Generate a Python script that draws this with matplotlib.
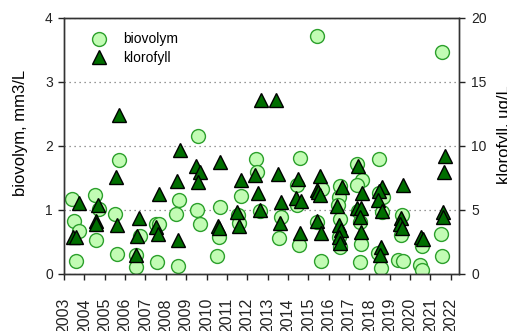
import matplotlib
matplotlib.use("Agg")
import matplotlib.pyplot as plt
from matplotlib.lines import Line2D

plt.rcParams['font.family'] = ['Liberation Sans', 'DejaVu Sans']

# Sampling dates (decimal years) and phytoplankton biovolume (mm3/L)
bio_date = [2003.41, 2003.49, 2003.72, 2003.58, 2004.51, 2004.71, 2004.59,
            2005.70, 2005.53, 2005.59, 2006.72, 2006.56, 2006.53,
            2007.54, 2007.67, 2007.58, 2008.66, 2008.49, 2008.59,
            2009.57, 2009.51, 2009.67, 2010.67, 2010.61, 2010.52,
            2011.69, 2011.53, 2011.59, 2012.42, 2012.50, 2012.62,
            2013.65, 2013.56, 2014.42, 2014.46, 2014.60, 2014.56,
            2015.41, 2015.65, 2015.44, 2015.60,
            2016.56, 2016.52, 2016.44, 2016.58, 2016.51, 2016.56,
            2017.39, 2017.62, 2017.41, 2017.44, 2017.54, 2017.60, 2017.55,
            2018.46, 2018.49, 2018.68, 2018.63, 2018.41, 2018.55,
            2019.59, 2019.54, 2019.42, 2019.63,
            2020.57, 2020.49, 2020.56, 2021.58, 2021.52, 2021.56]
bio_value = [1.16, 0.83, 0.67, 0.20, 1.23, 1.01, 0.52,
             1.77, 0.93, 0.31, 0.59, 0.30, 0.11,
             0.77, 0.77, 0.18, 1.15, 0.93, 0.12,
             2.15, 1.00, 0.78, 1.04, 0.58, 0.28,
             1.21, 0.92, 0.79, 1.80, 1.59, 0.98,
             0.89, 0.56, 1.39, 1.07, 1.81, 0.45,
             3.72, 1.33, 0.81, 0.20,
             1.37, 1.20, 1.07, 0.86, 0.58, 0.41,
             1.72, 1.46, 1.39, 0.98, 0.81, 0.47, 0.19,
             1.79, 1.26, 1.20, 0.97, 0.33, 0.09,
             0.92, 0.60, 0.21, 0.20,
             0.44, 0.13, 0.06, 3.46, 0.62, 0.27]

# Sampling dates (decimal years) and chlorophyll (ug/L)
chl_date = [2003.44, 2003.61, 2003.72, 2004.69, 2004.59, 2004.56,
            2005.70, 2005.56, 2005.61, 2006.67, 2006.59, 2006.53,
            2007.69, 2007.54, 2007.62, 2008.69, 2008.53, 2008.58,
            2009.49, 2009.69, 2009.59, 2010.66, 2010.54, 2010.61,
            2011.69, 2011.52, 2011.60, 2012.67, 2012.40, 2012.52, 2012.61,
            2013.41, 2013.51, 2013.67, 2013.59,
            2014.49, 2014.40, 2014.63, 2014.57,
            2015.57, 2015.41, 2015.49, 2015.57, 2015.43, 2015.62,
            2016.66, 2016.43, 2016.52, 2016.59, 2016.52, 2016.58,
            2017.45, 2017.62, 2017.38, 2017.59, 2017.54, 2017.58,
            2018.64, 2018.45, 2018.42, 2018.60, 2018.57, 2018.54,
            2019.65, 2019.55, 2019.50, 2019.59,
            2020.54, 2020.62, 2021.69, 2021.67, 2021.62, 2021.62]
chl_value = [2.89, 2.89, 5.52, 5.33, 4.10, 3.88,
             12.4, 7.52, 3.77, 4.35, 2.93, 1.47,
             6.25, 3.63, 3.10, 9.69, 7.21, 2.60,
             8.41, 7.93, 7.19, 8.75, 3.73, 3.55,
             7.32, 4.80, 3.76, 13.57, 7.71, 6.33, 5.00,
             13.57, 7.80, 5.63, 3.94,
             7.42, 5.93, 5.65, 3.18,
             7.60, 6.57, 6.40, 6.15, 4.13, 3.18,
             6.80, 5.29, 3.84, 3.38, 2.89, 2.40,
             8.45, 6.33, 5.11, 5.11, 4.42, 3.24,
             6.77, 6.50, 5.75, 4.88, 2.08, 1.48,
             6.93, 4.33, 3.92, 3.60,
             2.89, 2.70, 9.23, 7.93, 4.80, 4.40]

years = list(range(2003, 2023))
left_ticks = [0, 1, 2, 3, 4]
right_ticks = [0, 5, 10, 15, 20]

circle_face = '#c2fcb4'
circle_edge = '#2ca02c'
tri_face = '#006e00'

fig = plt.figure(figsize=(5.07, 3.31), dpi=100)
ax = fig.add_axes([0.1262, 0.1731, 0.7791, 0.7734])
ax2 = ax.twinx()

ax.plot(bio_date, bio_value, linestyle='none', marker='o', markersize=10,
        markerfacecolor=circle_face, markeredgecolor=circle_edge,
        markeredgewidth=1.0)
ax2.plot(chl_date, chl_value, linestyle='none', marker='^', markersize=10,
         markerfacecolor=tri_face, markeredgecolor='black',
         markeredgewidth=1.0)

ax.set_xlim(2003.0, 2022.4)
ax.set_ylim(0, 4)
ax2.set_ylim(0, 20)

ax.set_xticks(years)
ax.set_xticklabels([str(y) for y in years], rotation=90, fontsize=11.5)
ax.set_yticks(left_ticks)
ax.set_yticklabels([str(v) for v in left_ticks], fontsize=10)
ax2.set_yticks(right_ticks)
ax2.set_yticklabels([str(v) for v in right_ticks], fontsize=10)

for a in (ax, ax2):
    a.tick_params(direction='out', length=4.5, width=1, colors='#222222')
    for s in a.spines.values():
        s.set_color('#333333')
        s.set_linewidth(1.0)
ax.tick_params(axis='x', pad=13)
ax.tick_params(axis='y', pad=3.5)
ax2.tick_params(axis='y', pad=4.5)

ax.yaxis.grid(True, linestyle=(0, (1, 3)), color='#777777', linewidth=0.9)
ax.set_axisbelow(True)

# Axis titles placed in figure coordinates
fig.text(21 / 507, 1 - 133 / 331, 'biovolym, mm3/L', rotation=90,
         ha='center', va='center', fontsize=12)
fig.text(505 / 507, 1 - 135 / 331, 'klorofyll, ug/L', rotation=90,
         ha='center', va='center', fontsize=12)

handles = [
    Line2D([], [], linestyle='none', marker='o', markersize=10,
           markerfacecolor=circle_face, markeredgecolor=circle_edge),
    Line2D([], [], linestyle='none', marker='^', markersize=10,
           markerfacecolor=tri_face, markeredgecolor='black'),
]
ax2.legend(handles, ['biovolym', 'klorofyll'], loc='upper left',
           bbox_to_anchor=(0.056, 0.964), borderaxespad=0, frameon=False,
           fontsize=10, handlelength=1.0, handletextpad=1.25,
           labelspacing=0.3)

fig.savefig('out.png', dpi=100)
